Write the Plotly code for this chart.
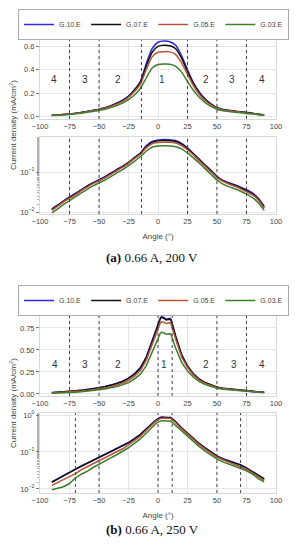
import plotly.graph_objects as go

# ---------------- data ----------------
series_names = ["G.10.E", "G.07.E", "G.05.E", "G.03.E"]
series_colors = ["#2a2ad6", "#111111", "#b8553a", "#3d7f2a"]

# panel (a): 0.66 A, 200 V
angles_a = [-90, -85, -80, -75, -70, -65, -60, -55, -50, -45, -40, -35, -30, -25, -20, -15,
            -10, -5, 0, 5, 10, 15, 20, 25, 30, 35, 40, 45, 50, 55, 60, 65, 70, 75, 80, 85, 90]
g10_a = [0.012, 0.015, 0.019, 0.024, 0.029, 0.036, 0.045, 0.054, 0.064, 0.076, 0.093, 0.115,
         0.14, 0.175, 0.23, 0.30, 0.45, 0.58, 0.635, 0.645, 0.64, 0.61, 0.52, 0.40, 0.29, 0.21,
         0.15, 0.11, 0.078, 0.062, 0.054, 0.048, 0.042, 0.036, 0.030, 0.022, 0.014]
g07_a = [0.0115, 0.0145, 0.0185, 0.023, 0.028, 0.035, 0.044, 0.053, 0.062, 0.074, 0.091, 0.112,
         0.137, 0.172, 0.225, 0.29, 0.43, 0.55, 0.60, 0.61, 0.605, 0.58, 0.50, 0.385, 0.28, 0.20,
         0.145, 0.105, 0.075, 0.06, 0.052, 0.046, 0.04, 0.034, 0.028, 0.021, 0.013]
g05_a = [0.011, 0.014, 0.018, 0.022, 0.027, 0.034, 0.042, 0.051, 0.06, 0.071, 0.087, 0.107,
         0.13, 0.165, 0.215, 0.275, 0.40, 0.51, 0.55, 0.555, 0.553, 0.53, 0.46, 0.36, 0.265, 0.19,
         0.138, 0.10, 0.072, 0.058, 0.05, 0.044, 0.038, 0.032, 0.027, 0.02, 0.0125]
g03_a = [0.0095, 0.012, 0.0155, 0.019, 0.024, 0.03, 0.037, 0.045, 0.053, 0.063, 0.077, 0.094,
         0.115, 0.145, 0.185, 0.24, 0.33, 0.415, 0.445, 0.45, 0.448, 0.43, 0.38, 0.30, 0.225, 0.165,
         0.12, 0.087, 0.063, 0.05, 0.043, 0.038, 0.033, 0.028, 0.023, 0.017, 0.011]

# panel (b): 0.66 A, 250 V
angles_b = [-90, -85, -80, -75, -70, -65, -60, -55, -50, -45, -40, -35, -30, -25, -20, -15,
            -10, -5, -2, 0, 2, 3, 5, 7, 9, 10, 11, 12, 15, 20, 25, 30, 35, 40, 45, 50, 55, 60,
            65, 70, 75, 80, 85, 90]
g10_b = [0.0155, 0.019, 0.024, 0.029, 0.035, 0.042, 0.050, 0.060, 0.072, 0.085, 0.10, 0.12,
         0.145, 0.18, 0.23, 0.30, 0.42, 0.60, 0.72, 0.80, 0.865, 0.88, 0.87, 0.85, 0.855, 0.86,
         0.85, 0.80, 0.66, 0.45, 0.32, 0.23, 0.17, 0.13, 0.10, 0.078, 0.066, 0.058, 0.051, 0.045,
         0.037, 0.030, 0.024, 0.019]
g07_b = [0.015, 0.0185, 0.0235, 0.0285, 0.034, 0.041, 0.049, 0.059, 0.070, 0.083, 0.098, 0.117,
         0.142, 0.176, 0.225, 0.29, 0.41, 0.59, 0.71, 0.79, 0.855, 0.87, 0.86, 0.84, 0.845, 0.85,
         0.84, 0.79, 0.65, 0.44, 0.315, 0.225, 0.166, 0.127, 0.098, 0.076, 0.064, 0.056, 0.05,
         0.044, 0.036, 0.029, 0.023, 0.0185]
g05_b = [0.0125, 0.015, 0.0185, 0.022, 0.026, 0.033, 0.040, 0.048, 0.057, 0.069, 0.083, 0.10,
         0.122, 0.155, 0.20, 0.265, 0.38, 0.56, 0.67, 0.75, 0.81, 0.82, 0.815, 0.80, 0.805, 0.81,
         0.80, 0.75, 0.62, 0.42, 0.30, 0.215, 0.158, 0.12, 0.093, 0.072, 0.061, 0.053, 0.047,
         0.041, 0.034, 0.027, 0.021, 0.017]
g03_b = [0.0095, 0.0105, 0.0115, 0.014, 0.020, 0.025, 0.030, 0.038, 0.047, 0.057, 0.069, 0.084,
         0.103, 0.13, 0.17, 0.225, 0.32, 0.47, 0.58, 0.64, 0.69, 0.70, 0.695, 0.68, 0.682, 0.685,
         0.675, 0.63, 0.52, 0.36, 0.26, 0.19, 0.14, 0.106, 0.083, 0.064, 0.054, 0.047, 0.042,
         0.037, 0.031, 0.025, 0.019, 0.0155]

x_ticks = [-100, -75, -50, -25, 0, 25, 50, 75, 100]

# region boundaries (dotted lines) and region labels
vlines_a = [-75, -50, -14, 25, 50, 75]
vlines_b_top = [-75, -50, 0, 12, 50, 75]
vlines_b_bottom = [-70, -50, 0, 12, 50, 70]
region_text = ["4", "3", "2", "1", "2", "3", "4"]
region_x_a = [-88, -62, -34, 3, 41, 63, 88]
region_x_b = [-87, -62, -34, 5, 41, 64, 88]
region_y_a = 0.32
region_y_b = 0.33

captions = ["<b>(a)</b> 0.66 A, 200 V", "<b>(b)</b> 0.66 A, 250 V"]
y_title = "Current density (mA/cm<sup>2</sup>)"
x_title = "Angle (°)"

# ---------------- figure ----------------
W, H = 297, 550
def py(p):
    return 1 - p / H
def px(p):
    return p / W

fig = go.Figure()
data_a = [g10_a, g07_a, g05_a, g03_a]
data_b = [g10_b, g07_b, g05_b, g03_b]

for name, col, ya in zip(series_names, series_colors, data_a):
    fig.add_trace(go.Scatter(x=angles_a, y=ya, mode="lines", name=name, legend="legend",
                             line=dict(color=col, width=1.5, shape="spline", smoothing=0.6),
                             xaxis="x", yaxis="y"))
for name, col, ya in zip(series_names, series_colors, data_a):
    fig.add_trace(go.Scatter(x=angles_a, y=ya, mode="lines", name=name, showlegend=False,
                             line=dict(color=col, width=1.5, shape="spline", smoothing=0.6),
                             xaxis="x2", yaxis="y2"))
for name, col, yb in zip(series_names, series_colors, data_b):
    fig.add_trace(go.Scatter(x=angles_b, y=yb, mode="lines", name=name, legend="legend2",
                             line=dict(color=col, width=1.5),
                             xaxis="x3", yaxis="y3"))
for name, col, yb in zip(series_names, series_colors, data_b):
    fig.add_trace(go.Scatter(x=angles_b, y=yb, mode="lines", name=name, showlegend=False,
                             line=dict(color=col, width=1.5),
                             xaxis="x4", yaxis="y4"))

tickfont = dict(family="Liberation Sans, Arial, sans-serif", size=7.5, color="#444")
grid = "#e6e6e6"
xdom = [px(40), px(276)]

def xax(anchor, title=None):
    d = dict(domain=xdom, range=[-100.01, 100.01], tickvals=x_ticks, anchor=anchor,
             showgrid=True, gridcolor=grid, zeroline=False, showline=True, linecolor="#d8d8d8",
             mirror=True, ticks="", tickfont=tickfont, ticklabeloverflow="allow")
    if title:
        d["title"] = dict(text=title, font=dict(size=8, color="#444"), standoff=8)
    return d

def yax(anchor, dom, **kw):
    d = dict(domain=dom, anchor=anchor, showgrid=True, gridcolor=grid, zeroline=False,
             showline=True, linecolor="#d8d8d8", mirror=True, ticks="outside", ticklen=3,
             tickcolor="#777", tickfont=tickfont, ticklabeloverflow="allow")
    d.update(kw)
    return d

minor = dict(ticks="outside", ticklen=2, tickcolor="#b0b0b0", showgrid=False)

legend_common = dict(orientation="h", xanchor="left", yanchor="top",
                     bordercolor="#aaa", borderwidth=1, bgcolor="white",
                     font=dict(size=7, color="#444"))

fig.update_layout(
    width=W, height=H, margin=dict(l=0, r=0, t=0, b=0, autoexpand=False),
    paper_bgcolor="white", plot_bgcolor="white",
    font=dict(family="Liberation Sans, Arial, sans-serif", size=8, color="#444"),
    xaxis=xax("y"),
    yaxis=yax("x", [py(119), py(37)], range=[-0.02, 0.68], tickvals=[0.0, 0.2, 0.4, 0.6],
              tickformat=".1f"),
    xaxis2=xax("y2", x_title),
    yaxis2=yax("x2", [py(214), py(137)], type="log", range=[-2.05, -0.125],
               tickvals=[0.01, 0.1], ticktext=["10<sup>−2</sup>", "10<sup>−1</sup>"], minor=minor),
    xaxis3=xax("y3"),
    yaxis3=yax("x3", [py(396), py(313)], range=[-0.023, 0.92], tickvals=[0.0, 0.25, 0.5, 0.75],
               tickformat=".2f"),
    xaxis4=xax("y4", x_title),
    yaxis4=yax("x4", [py(493), py(413)], type="log", range=[-2.11, 0.054],
               tickvals=[0.01, 0.1, 1], ticktext=["10<sup>−2</sup>", "10<sup>−1</sup>", "10<sup>0</sup>"],
               minor=minor),
    legend=dict(x=px(18), y=py(9), **legend_common),
    legend2=dict(x=px(18), y=py(285), **legend_common),
    showlegend=True,
)

shapes = []
for xr, yr, lines in [("x", "y", vlines_a), ("x2", "y2", vlines_a),
                      ("x3", "y3", vlines_b_top), ("x4", "y4", vlines_b_bottom)]:
    for v in lines:
        shapes.append(dict(type="line", xref=xr, yref=yr + " domain", x0=v, x1=v, y0=0, y1=1,
                           line=dict(color="#444", width=1, dash="dot"), layer="above"))
fig.update_layout(shapes=shapes)

ann = []
for t, xv in zip(region_text, region_x_a):
    ann.append(dict(x=xv, y=region_y_a, xref="x", yref="y", text=t, showarrow=False,
                    font=dict(size=10, color="#333")))
for t, xv in zip(region_text, region_x_b):
    ann.append(dict(x=xv, y=region_y_b, xref="x3", yref="y3", text=t, showarrow=False,
                    font=dict(size=10, color="#333")))
for yc in [125, 403]:
    ann.append(dict(x=px(13), y=py(yc), xref="paper", yref="paper", text=y_title,
                    xanchor="center", yanchor="middle",
                    textangle=-90, showarrow=False, font=dict(size=8, color="#444")))
for cap, yc in zip(captions, [257, 529]):
    ann.append(dict(x=px(152), y=py(yc), xref="paper", yref="paper", text=cap, showarrow=False,
                    xanchor="center", yanchor="middle",
                    font=dict(family="Liberation Serif, Times New Roman, serif", size=13,
                              color="#111")))
fig.update_layout(annotations=ann)

fig.write_html("out.html", config={"displayModeBar": False},
               post_script="document.body.style.margin='0px';")
